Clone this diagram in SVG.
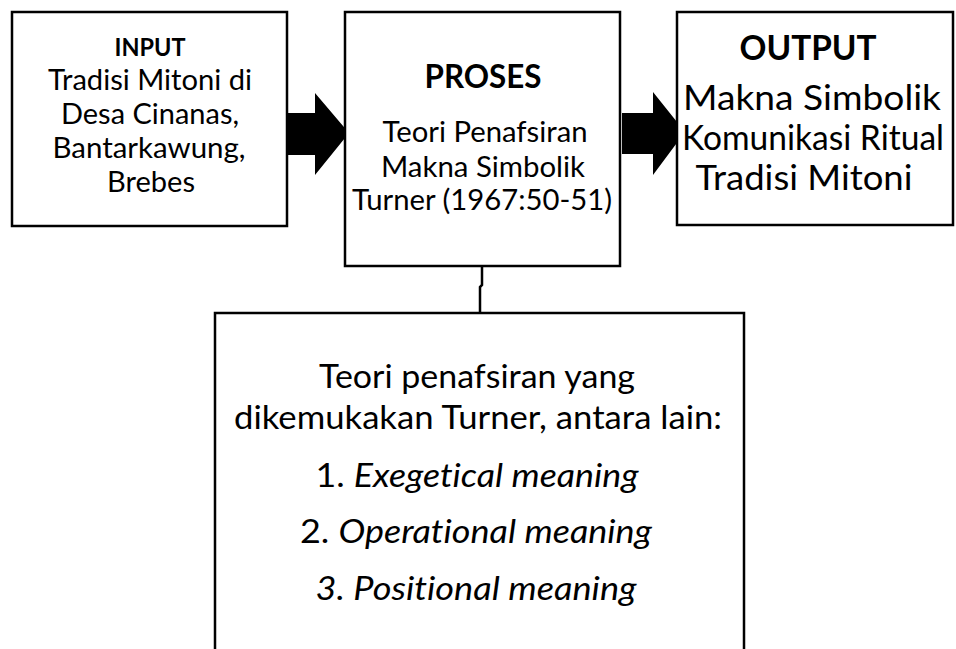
<svg xmlns="http://www.w3.org/2000/svg" width="956" height="649" viewBox="0 0 956 649">
  <style>
    .box { fill: #ffffff; stroke: #000000; stroke-width: 2.5; }
    .arrow { fill: #000000; stroke: none; }
    .conn { fill: none; stroke: #000000; stroke-width: 2.5; }
    text { font-family: Lato, "Open Sans", "Liberation Sans", sans-serif; fill: #000000; text-anchor: middle; font-variant-ligatures: none; font-feature-settings: "liga" 0, "clig" 0; }
    .b { font-weight: bold; }
    .i { font-style: italic; }
  </style>
  <rect width="956" height="649" fill="#ffffff"/>

  <g id="connectors">
    <polygon class="arrow" points="285,113 315,113 315,93 349,133 315,175 315,155 285,155"/>
    <polygon class="arrow" points="622,113 653,113 653,92 685,132 653,175 653,154 622,154"/>
    <polyline class="conn" points="482,266 482,285 480,287 480,313"/>
  </g>

  <g id="input">
    <rect class="box" x="12" y="12" width="275" height="214"/>
    <text class="b" x="150" y="56" font-size="24" textLength="71" lengthAdjust="spacingAndGlyphs">INPUT</text>
    <text x="150" y="90" font-size="28" textLength="204" lengthAdjust="spacingAndGlyphs">Tradisi Mitoni di</text>
    <text x="150" y="124" font-size="28" textLength="178" lengthAdjust="spacingAndGlyphs">Desa Cinanas,</text>
    <text x="149" y="158" font-size="28" textLength="193" lengthAdjust="spacingAndGlyphs">Bantarkawung,</text>
    <text x="151" y="192" font-size="28" textLength="88" lengthAdjust="spacingAndGlyphs">Brebes</text>
  </g>

  <g id="proses">
    <rect class="box" x="345" y="12" width="275" height="254"/>
    <text class="b" x="483" y="88" font-size="33" textLength="117" lengthAdjust="spacingAndGlyphs">PROSES</text>
    <text x="485" y="142" font-size="29" textLength="205" lengthAdjust="spacingAndGlyphs">Teori Penafsiran</text>
    <text x="483" y="177" font-size="29" textLength="204" lengthAdjust="spacingAndGlyphs">Makna Simbolik</text>
    <text x="482" y="210" font-size="29" textLength="260" lengthAdjust="spacingAndGlyphs">Turner (1967:50-51)</text>
  </g>

  <g id="output">
    <rect class="box" x="677" y="12" width="276" height="213"/>
    <text class="b" x="808" y="60" font-size="35" textLength="137" lengthAdjust="spacingAndGlyphs">OUTPUT</text>
    <text x="812" y="110" font-size="34" textLength="258" lengthAdjust="spacingAndGlyphs">Makna Simbolik</text>
    <text x="813" y="150" font-size="34" textLength="262" lengthAdjust="spacingAndGlyphs">Komunikasi Ritual</text>
    <text x="804" y="190" font-size="34" textLength="217" lengthAdjust="spacingAndGlyphs">Tradisi Mitoni</text>
  </g>

  <g id="teori">
    <rect class="box" x="215" y="313" width="529" height="400"/>
    <text x="477" y="388" font-size="32.5" textLength="316" lengthAdjust="spacingAndGlyphs">Teori penafsiran yang</text>
    <text x="478" y="429" font-size="32.5" textLength="488" lengthAdjust="spacingAndGlyphs">dikemukakan Turner, antara lain:</text>
    <text x="477" y="487" font-size="32.5" textLength="323" lengthAdjust="spacingAndGlyphs">1. <tspan class="i">Exegetical meaning</tspan></text>
    <text x="476" y="543" font-size="32.5" textLength="352" lengthAdjust="spacingAndGlyphs">2. <tspan class="i">Operational meaning</tspan></text>
    <text class="i" x="476" y="600" font-size="32.5" textLength="321" lengthAdjust="spacingAndGlyphs">3. Positional meaning</text>
  </g>
</svg>
